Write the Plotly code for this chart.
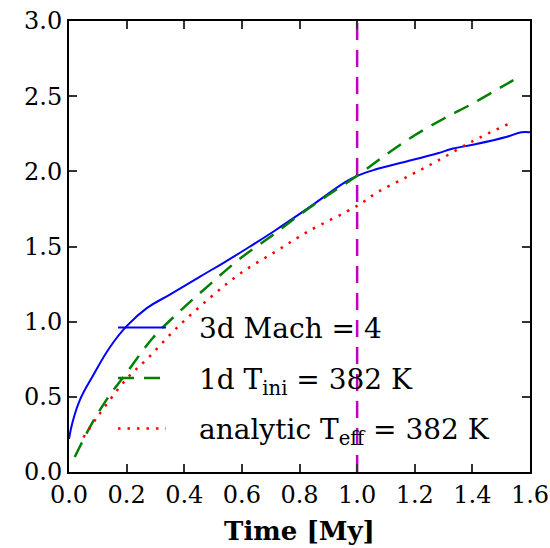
import plotly.graph_objects as go

# 3d Mach = 4 (blue solid)
t_3d = [0.0, 0.012, 0.038, 0.083, 0.142, 0.2, 0.27, 0.35, 0.455, 0.535, 0.62, 0.71, 0.826,
        0.96, 1.0, 1.06, 1.18, 1.28, 1.33, 1.41, 1.52, 1.57, 1.6]
r_3d = [0.22, 0.33, 0.48, 0.64, 0.83, 0.97, 1.09, 1.18, 1.30, 1.39, 1.49, 1.60, 1.75,
        1.93, 1.97, 2.01, 2.07, 2.12, 2.15, 2.18, 2.23, 2.26, 2.26]

# 1d T_ini = 382 K (green dashed)
t_1d = [0.02, 0.073, 0.13, 0.2, 0.29, 0.385, 0.49, 0.594, 0.71, 0.80, 0.89, 1.0,
        1.1, 1.2, 1.3, 1.4, 1.5, 1.573]
r_1d = [0.10, 0.30, 0.48, 0.66, 0.89, 1.07, 1.25, 1.42, 1.58, 1.71, 1.83, 1.97,
        2.11, 2.24, 2.35, 2.45, 2.56, 2.64]

# analytic T_eff = 382 K (red dotted)
t_an = [0.05, 0.1, 0.2, 0.27, 0.375, 0.49, 0.594, 0.72, 0.83, 1.0, 1.07, 1.17, 1.27, 1.4, 1.53]
r_an = [0.23, 0.37, 0.62, 0.75, 0.96, 1.16, 1.32, 1.47, 1.60, 1.77, 1.86, 1.96, 2.06, 2.20, 2.32]

# vertical marker at t = 1 My
t_mark = [1.0, 1.0]
r_mark = [0.0, 3.0]

x_ticks = [0.0, 0.2, 0.4, 0.6, 0.8, 1.0, 1.2, 1.4, 1.6]
y_ticks = [0.0, 0.5, 1.0, 1.5, 2.0, 2.5, 3.0]

FONT = "DejaVu Serif"
PAD = "\u2003"

fig = go.Figure()
fig.add_trace(go.Scatter(x=t_mark, y=r_mark, mode="lines", showlegend=False,
                         line=dict(color="#bf00bf", width=2.5, dash="17px,10px")))
fig.add_trace(go.Scatter(x=t_3d, y=r_3d, mode="lines", name=PAD + "3d Mach = 4", legendgroup="a",
                         line=dict(color="#0000ff", width=2, shape="spline", smoothing=1.2)))
fig.add_trace(go.Scatter(x=t_1d, y=r_1d, mode="lines", name=PAD + "1d T<sub>ini</sub> = 382 K",
                         legendgroup="b",
                         line=dict(color="#008000", width=2.5, dash="16px,10px", shape="spline", smoothing=1.0)))
fig.add_trace(go.Scatter(x=t_an, y=r_an, mode="lines", name=PAD + "analytic T<sub>eff</sub> = 382 K",
                         legendgroup="c",
                         line=dict(color="#ff0000", width=2.5, dash="2.5px,7px", shape="spline", smoothing=1.0)))

axis_common = dict(showline=True, linecolor="black", linewidth=2, mirror="ticks",
                   ticks="inside", ticklen=8, tickwidth=1.5, tickcolor="#333",
                   showgrid=False, zeroline=False, automargin=False,
                   tickfont=dict(family=FONT, size=24, color="black"))

fig.update_xaxes(range=[0, 1.6], tickvals=x_ticks, ticktext=[f"{v:.1f}" for v in x_ticks],
                 title=dict(text="<b>Time [My]</b>", font=dict(family=FONT, size=26, color="black"), standoff=14),
                 **axis_common)
fig.update_yaxes(range=[0, 3.0], tickvals=y_ticks, ticktext=[f"{v:.1f}" for v in y_ticks],
                 **axis_common)

fig.update_layout(
    width=550, height=548,
    margin=dict(l=69, r=20, t=21, b=76),
    plot_bgcolor="white", paper_bgcolor="white",
    legend=dict(x=0.0954, y=0.375, xanchor="left", yanchor="top",
                bgcolor="rgba(0,0,0,0)", font=dict(family=FONT, size=28, color="black"),
                itemwidth=48, tracegroupgap=11, traceorder="grouped"),
)

fig.write_html("out.html")
